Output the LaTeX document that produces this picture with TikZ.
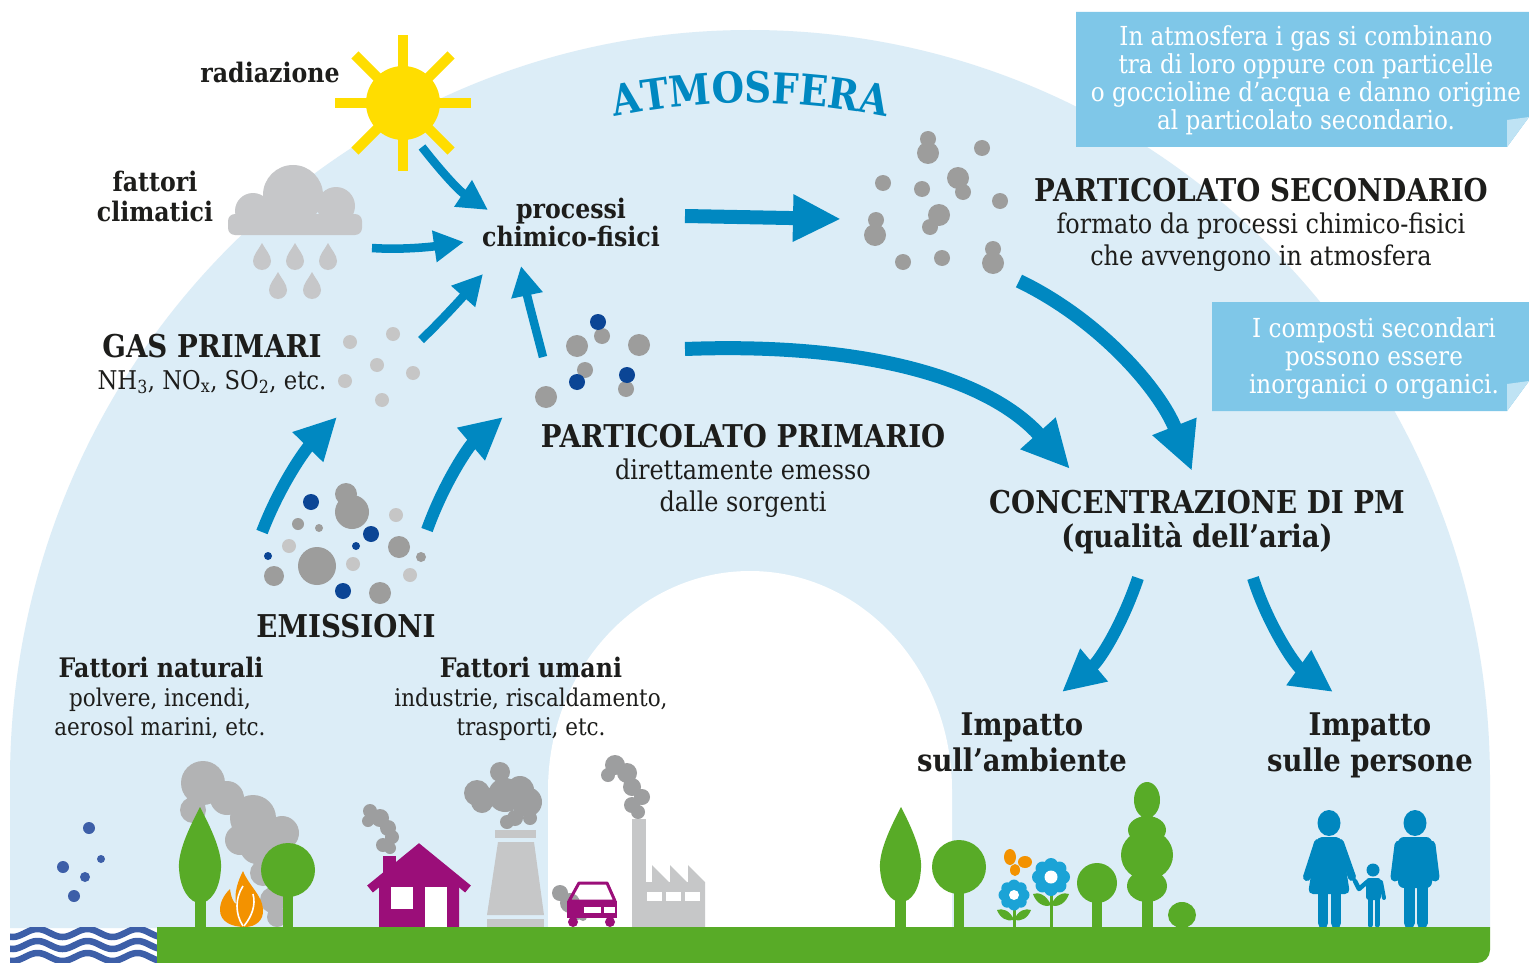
\documentclass[tikz,border=0pt]{standalone}
\usepackage{fontspec}
\usetikzlibrary{arrows.meta,decorations.text}
\newfontfamily\slab[FakeStretch=0.88]{DejaVu Serif}

\definecolor{sky}{HTML}{DCEDF7}
\definecolor{flow}{HTML}{0088C1}
\definecolor{note}{HTML}{7FC7E8}
\definecolor{notefold}{HTML}{BFE3F4}
\definecolor{leaf}{HTML}{58AB27}
\definecolor{pgray}{HTML}{9D9D9C}
\definecolor{plight}{HTML}{C6C6C6}
\definecolor{pnavy}{HTML}{0B4595}
\definecolor{sunyellow}{HTML}{FFDD00}
\definecolor{cloudgray}{HTML}{C6C7C9}
\definecolor{house}{HTML}{9B0E79}
\definecolor{fire}{HTML}{F39200}
\definecolor{sea}{HTML}{3D5FA8}
\definecolor{people}{HTML}{0087BF}
\definecolor{bloom}{HTML}{1BA3D6}
\definecolor{plant}{HTML}{C6C7C8}
\definecolor{smoke}{HTML}{9D9E9F}
\definecolor{haze}{HTML}{B2B3B4}
\definecolor{ink}{HTML}{1D1D1B}

\tikzset{
  every node/.style={inner sep=0pt, outer sep=0pt, text=ink},
  hcaps/.style={anchor=base, font=\slab\bfseries\fontsize{31.4}{34}\selectfont},
  hlabel/.style={anchor=base, font=\slab\bfseries\fontsize{26.9}{28}\selectfont},
  hbig/.style={anchor=base, font=\slab\bfseries\fontsize{31.2}{32}\selectfont},
  hbody/.style={anchor=base, font=\slab\fontsize{27.2}{28}\selectfont},
  hsmall/.style={anchor=base, font=\slab\fontsize{24.4}{28}\selectfont},
  hnote/.style={anchor=base, text=white, font=\slab\fontsize{26.2}{28}\selectfont},
  flowbig/.style={color=flow, line width=14pt, -{Triangle[length=48pt,width=44pt]}},
  flowmid/.style={color=flow, line width=12pt, -{Triangle[length=42pt,width=40pt]}},
  flowsmall/.style={color=flow, line width=8.5pt, -{Triangle[length=30pt,width=30pt]}},
  raindrop/.pic={\fill[cloudgray] (0,-18) .. controls (3,-12) and (9,-6) .. (9,0)
      arc[start angle=0, end angle=180, radius=9] .. controls (-9,-6) and (-3,-12) .. cycle;},
}

\begin{document}
\begin{tikzpicture}[x=1pt, y=-1pt]
\useasboundingbox (0,0) rectangle (1529,963);
\fill[white] (0,0) rectangle (1529,963);

% sky arch and the opening beneath it
\fill[sky] (10,928) -- (10,780) arc[start angle=180, end angle=360, x radius=740, y radius=750]
  -- (1490,928) -- cycle;
\fill[white] (548,930) -- (548,790) arc[start angle=180, end angle=360, x radius=202, y radius=219]
  -- (952,930) -- cycle;

% arched title
\path[decorate, decoration={text along path, text align=center, text color=flow,
  text format delimiters={|}{|},
  text={|\slab\bfseries\fontsize{42.5}{44}\selectfont|ATMOSFERA}}]
  (575,126) arc[start angle=-105, end angle=-75, radius=677];

% callout notes
\fill[note] (1076,12) -- (1529,12) -- (1529,117) -- (1507,147) -- (1076,147) -- cycle;
\fill[notefold] (1507,147) -- (1507,120) -- (1529,117) -- cycle;
\fill[note] (1212,302) -- (1529,302) -- (1529,381) -- (1507,411) -- (1212,411) -- cycle;
\fill[notefold] (1507,411) -- (1507,384) -- (1529,381) -- cycle;
\node[hnote] (n1a) at (1306,46) {In atmosfera i gas si combinano};
\node[hnote] (n1b) at (1306,74) {tra di loro oppure con particelle};
\node[hnote] (n1c) at (1306,102) {o goccioline d’acqua e danno origine};
\node[hnote] (n1d) at (1306,130) {al particolato secondario.};
\node[hnote] (n2a) at (1374,337) {I composti secondari};
\node[hnote] (n2b) at (1374,365) {possono essere};
\node[hnote] (n2c) at (1374,393) {inorganici o organici.};

% sun
\foreach \a in {0,45,...,315} \draw[sunyellow, line width=10pt] (403,103) -- ++(\a:68);
\fill[sunyellow] (403,103) circle (37);

% rain cloud
\fill[cloudgray] (253,211) circle (18) (293,195) circle (30) (336,206) circle (19);
\fill[cloudgray, rounded corners=7pt] (228,214) rectangle (362,235);
\foreach \px/\py in {262/261, 295/261, 328/261, 278/290, 312/290} \pic at (\px,\py) {raindrop};

% labels
\node[hlabel] (radiazione) at (270,83) {radiazione};
\node[hlabel] (fattori) at (155,191) {fattori};
\node[hlabel] (climatici) at (155,221) {climatici};
\node[hlabel] (processi) at (571,218) {processi};
\node[hlabel] (chimfis) at (571,246) {chimico-fisici};
\node[hcaps] (gasprim) at (212,357) {GAS PRIMARI};
\node[hbody, font=\slab\fontsize{25.8}{28}\selectfont] (gaslist) at (212,389)
  {NH\textsubscript{3}, NO\textsubscript{x}, SO\textsubscript{2}, etc.};
\node[hcaps] (partprim) at (743,447) {PARTICOLATO PRIMARIO};
\node[hbody] (pp1) at (743,479) {direttamente emesso};
\node[hbody] (pp2) at (743,511) {dalle sorgenti};
\node[hcaps] (partsec) at (1261,201) {PARTICOLATO SECONDARIO};
\node[hbody] (ps1) at (1261,233) {formato da processi chimico-fisici};
\node[hbody] (ps2) at (1261,265) {che avvengono in atmosfera};
\node[hcaps] (conc) at (1197,513) {CONCENTRAZIONE DI PM};
\node[hbig] (qual) at (1197,547) {(qualità dell’aria)};
\node[hcaps] (emis) at (346,637) {EMISSIONI};
\node[hlabel] (fnat) at (161,677) {Fattori naturali};
\node[hsmall] (fn1) at (160,706) {polvere, incendi,};
\node[hsmall] (fn2) at (160,735) {aerosol marini, etc.};
\node[hlabel] (fum) at (531,677) {Fattori umani};
\node[hsmall] (fu1) at (531,706) {industrie, riscaldamento,};
\node[hsmall] (fu2) at (531,735) {trasporti, etc.};
\node[hbig] (imp1) at (1022,735) {Impatto};
\node[hbig] (imp1b) at (1022,771) {sull’ambiente};
\node[hbig] (imp2) at (1370,735) {Impatto};
\node[hbig] (imp2b) at (1370,771) {sulle persone};

% connector end points
\coordinate (sunA) at (422,147);   \coordinate (procA) at (488,210);
\coordinate (cloudA) at (372,248); \coordinate (procB) at (464,242);
\coordinate (gasA) at (421,340);   \coordinate (procC) at (483,274);
\coordinate (primA) at (543,357);  \coordinate (procD) at (521,266);
\coordinate (procE) at (685,216);  \coordinate (secA) at (841,219);
\coordinate (primB) at (685,349);  \coordinate (concA) at (1070,469);
\coordinate (secB) at (1019,281);  \coordinate (concB) at (1192,471);
\coordinate (emA) at (262,532);    \coordinate (gasB) at (337,417);
\coordinate (emB) at (427,530);    \coordinate (primC) at (503,417);
\coordinate (concC) at (1138,578); \coordinate (envA) at (1062,692);
\coordinate (concD) at (1253,578); \coordinate (pplA) at (1333,692);

% connectors
\draw[flowsmall] (sunA) .. controls (440,170) and (458,190) .. (procA);
\draw[flowsmall] (cloudA) .. controls (400,250) and (430,247) .. (procB);
\draw[flowsmall] (gasA) .. controls (440,322) and (460,300) .. (procC);
\draw[flowsmall] (primA) .. controls (536,330) and (528,300) .. (procD);
\draw[flowbig] (procE) -- (secA);
\draw[flowbig] (primB) .. controls (870,342) and (990,380) .. (concA);
\draw[flowbig] (secB) .. controls (1100,320) and (1160,390) .. (concB);
\draw[flowmid] (emA) .. controls (280,485) and (305,450) .. (gasB);
\draw[flowmid] (emB) .. controls (445,480) and (470,445) .. (primC);
\draw[flowmid] (concC) .. controls (1122,625) and (1100,660) .. (envA);
\draw[flowmid] (concD) .. controls (1268,625) and (1295,665) .. (pplA);

% secondary particulate
\foreach \px/\py/\r in {928/139/8, 928/153/11, 982/148/8, 883/183/8, 922/189/8, 958/178/11,
  963/192/8, 1000/201/8, 939/215/11, 930/227/8, 876/220/8, 875/235/11, 903/262/8,
  942/258/8, 993/249/8, 993/263/11}
  \fill[pgray] (\px,\py) circle (\r);

% primary gases
\foreach \px/\py in {350/342, 393/334, 377/365, 413/373, 345/381, 382/400}
  \fill[plight] (\px,\py) circle (7);

% primary particulate
\foreach \px/\py/\r in {602/336/8, 577/346/11, 639/345/11, 585/370/8, 626/389/8, 546/397/11}
  \fill[pgray] (\px,\py) circle (\r);
\foreach \px/\py in {598/322, 577/382, 627/375}
  \fill[pnavy] (\px,\py) circle (8);

% emissions
\foreach \px/\py/\r in {346/494/11, 352/512/17, 298/524/6, 319/528/4, 399/547/11,
  317/566/19, 421/557/5, 274/576/10, 380/593/11}
  \fill[pgray] (\px,\py) circle (\r);
\foreach \px/\py in {396/515, 289/546, 353/564, 410/575}
  \fill[plight] (\px,\py) circle (7);
\foreach \px/\py/\r in {311/502/8, 371/534/8, 356/546/4, 268/556/4, 343/591/8}
  \fill[pnavy] (\px,\py) circle (\r);

% sea
\begin{scope}
  \clip (10,927) rectangle (158,963);
  \foreach \yy in {933,945,957}
    \draw[sea, line width=6.5pt] plot[domain=0:170, samples=80, smooth] (\x, {\yy+4*sin(7.2*\x)});
\end{scope}
\foreach \px/\py/\r in {89/828/6, 101/859/4, 63/867/6, 85/877/5, 74/896/6}
  \fill[sea] (\px,\py) circle (\r);

% wildfire smoke, trees and flame
\fill[haze] (203,783) circle (22) (227,798) circle (17) (253,818) circle (23) (282,833) circle (17)
  (193,810) circle (13) (257,847) circle (17) (263,873) circle (13) (273,900) circle (13)
  (277,917) circle (10) (240,840) circle (15);
\fill[leaf] (200,807) .. controls (212,830) and (222,852) .. (221,868) .. controls (220,890) and (210,903) .. (200,903)
  .. controls (190,903) and (180,890) .. (179,868) .. controls (178,852) and (188,830) .. (200,807) -- cycle;
\fill[leaf] (195,895) rectangle (206,928);
\fill[leaf] (288,870) circle (27);
\fill[leaf] (283,880) rectangle (293,928);
\fill[fire] (243,871) .. controls (249,886) and (262,895) .. (263,909) .. controls (264,920) and (256,927) .. (245,927)
  .. controls (232,927) and (220,922) .. (220,910) .. controls (220,900) and (226,893) .. (230,889)
  .. controls (231,897) and (233,902) .. (236,904) .. controls (234,892) and (238,881) .. (243,871) -- cycle;
\draw[white, line width=1.6pt] (243,926) .. controls (235,914) and (235,898) .. (243,886);
\draw[white, line width=1.6pt] (244,926) .. controls (252,916) and (256,905) .. (253,894);

% house
\fill[smoke] (370,811) circle (7) (380,818) circle (9) (368,821) circle (6) (388,828) circle (8)
  (392,837) circle (7) (383,845) circle (7) (390,848) circle (6);
\fill[house] (379,928) -- (379,884) -- (419,851) -- (459,884) -- (459,928) -- cycle;
\draw[house, line width=9pt] (370,889) -- (419,849) -- (468,889);
\fill[house] (383,856) rectangle (396,885);
\fill[white] (391,887) rectangle (413,909);
\fill[white] (425,887) rectangle (447,928);

% cooling tower
\fill[smoke] (477,793) circle (13) (500,772) circle (10) (505,795) circle (17) (482,802) circle (11)
  (520,790) circle (14) (527,802) circle (15) (515,818) circle (8) (507,822) circle (7) (530,818) circle (7);
\fill[plant] (495,830) rectangle (536,838);
\fill[plant] (498,842) -- (534,842) -- (544,915) -- (487,915) -- cycle;
\fill[plant] (487,919) rectangle (544,928);

% car
\fill[smoke] (560,893) circle (8) (570,903) circle (10) (577,913) circle (7) (583,917) circle (4);
\draw[house, line width=3pt, line join=round] (579,883) -- (607,883) -- (615,901) -- (569,901) -- cycle;
\fill[house] (573,922) circle (5) (610,922) circle (5);
\fill[house] (567,901) rectangle (617,918);
\fill[white] (584,907) rectangle (601,913);
\fill[white] (604,907) rectangle (615,913);

% factory
\fill[smoke] (615,765) circle (10) (608,775) circle (7) (627,773) circle (10) (632,787) circle (9)
  (642,797) circle (8) (632,805) circle (8) (638,812) circle (7);
\fill[plant] (632,819) rectangle (646,928);
\fill[plant] (646,928) -- (646,882) -- (652,882) -- (652,865) -- (669,882) -- (670,882) -- (670,865)
  -- (687,882) -- (688,882) -- (688,865) -- (705,882) -- (705,928) -- cycle;
\fill[white] (647,892) rectangle (662,901);
\fill[white] (666,892) rectangle (681,901);
\fill[white] (685,892) rectangle (700,901);

% vegetation on the right
\fill[leaf] (901,807) .. controls (913,830) and (922,852) .. (921,868) .. controls (920,890) and (911,902) .. (901,902)
  .. controls (891,902) and (881,890) .. (880,868) .. controls (879,852) and (889,830) .. (901,807) -- cycle;
\fill[leaf] (895,895) rectangle (906,928);
\fill[leaf] (959,867) circle (27);
\fill[leaf] (954,880) rectangle (964,928);
\fill[leaf] (1097,883) circle (20);
\fill[leaf] (1092,890) rectangle (1102,928);
\fill[leaf] (1147,800) ellipse[x radius=13, y radius=18] (1147,830) ellipse[x radius=19, y radius=14]
  (1147,855) ellipse[x radius=26, y radius=25] (1147,886) ellipse[x radius=20, y radius=16];
\fill[leaf] (1142,890) rectangle (1153,928);
\fill[leaf] (1182,915) ellipse[x radius=14, y radius=13];

% flowers and butterfly
\draw[leaf, line width=3pt] (1014,900) -- (1014,928);
\fill[leaf] (1014,920) .. controls (1010,910) and (1002,908) .. (997,910) .. controls (1000,918) and (1007,922) .. (1014,920);
\fill[leaf] (1014,920) .. controls (1018,910) and (1026,908) .. (1031,910) .. controls (1028,918) and (1021,922) .. (1014,920);
\foreach \a in {0,45,...,315} \fill[bloom] (1014,895) ++(\a:9.5) circle (6);
\fill[bloom] (1014,895) circle (8);
\fill[white] (1014,895) circle (5);
\draw[leaf, line width=3pt] (1051,885) -- (1051,928);
\fill[leaf] (1051,905) .. controls (1046,894) and (1038,892) .. (1033,894) .. controls (1036,903) and (1044,908) .. (1051,905);
\fill[leaf] (1051,905) .. controls (1056,894) and (1064,892) .. (1069,894) .. controls (1066,903) and (1058,908) .. (1051,905);
\foreach \a in {0,45,...,315} \fill[bloom] (1051,877) ++(\a:12) circle (7);
\fill[bloom] (1051,877) circle (10);
\fill[white] (1051,877) circle (6.5);
\fill[fire] (1010,857) ellipse[x radius=6, y radius=8] (1025,862) ellipse[x radius=7, y radius=6]
  (1015,870) ellipse[x radius=5, y radius=6];

% people
\fill[people] (1329,823) ellipse[x radius=11.5, y radius=13];
\fill[people, rounded corners=5pt] (1317,837) -- (1341,837) -- (1350,894) -- (1308,894) -- cycle;
\draw[people, line width=8pt, line cap=round] (1318,843) -- (1307,877) (1340,843) -- (1352,877);
\draw[people, line width=10.5pt, line cap=round] (1323,890) -- (1323,923) (1336,890) -- (1336,923);
\fill[people] (1415,823) ellipse[x radius=11.5, y radius=13];
\fill[people, rounded corners=6pt] (1398,837) -- (1432,837) -- (1432,888) -- (1398,888) -- cycle;
\draw[people, line width=9pt, line cap=round] (1399,845) -- (1395,877) (1431,845) -- (1435,877);
\draw[people, line width=11pt, line cap=round] (1409,884) -- (1409,923) (1422,884) -- (1422,923);
\fill[people] (1373,870) circle (6.5);
\fill[people, rounded corners=3pt] (1366,878) rectangle (1381,900);
\draw[people, line width=4.5pt, line cap=round, line join=round] (1367,882) -- (1359,889) -- (1355,881);
\draw[people, line width=4pt, line cap=round] (1381,882) -- (1384,898);
\draw[people, line width=5pt, line cap=round] (1370,898) -- (1370,925) (1377,898) -- (1377,925);

% ground
\fill[leaf] (157,927) -- (1490,927) -- (1490,950) arc[start angle=0, end angle=90, radius=13] -- (157,963) -- cycle;
\end{tikzpicture}
\end{document}
